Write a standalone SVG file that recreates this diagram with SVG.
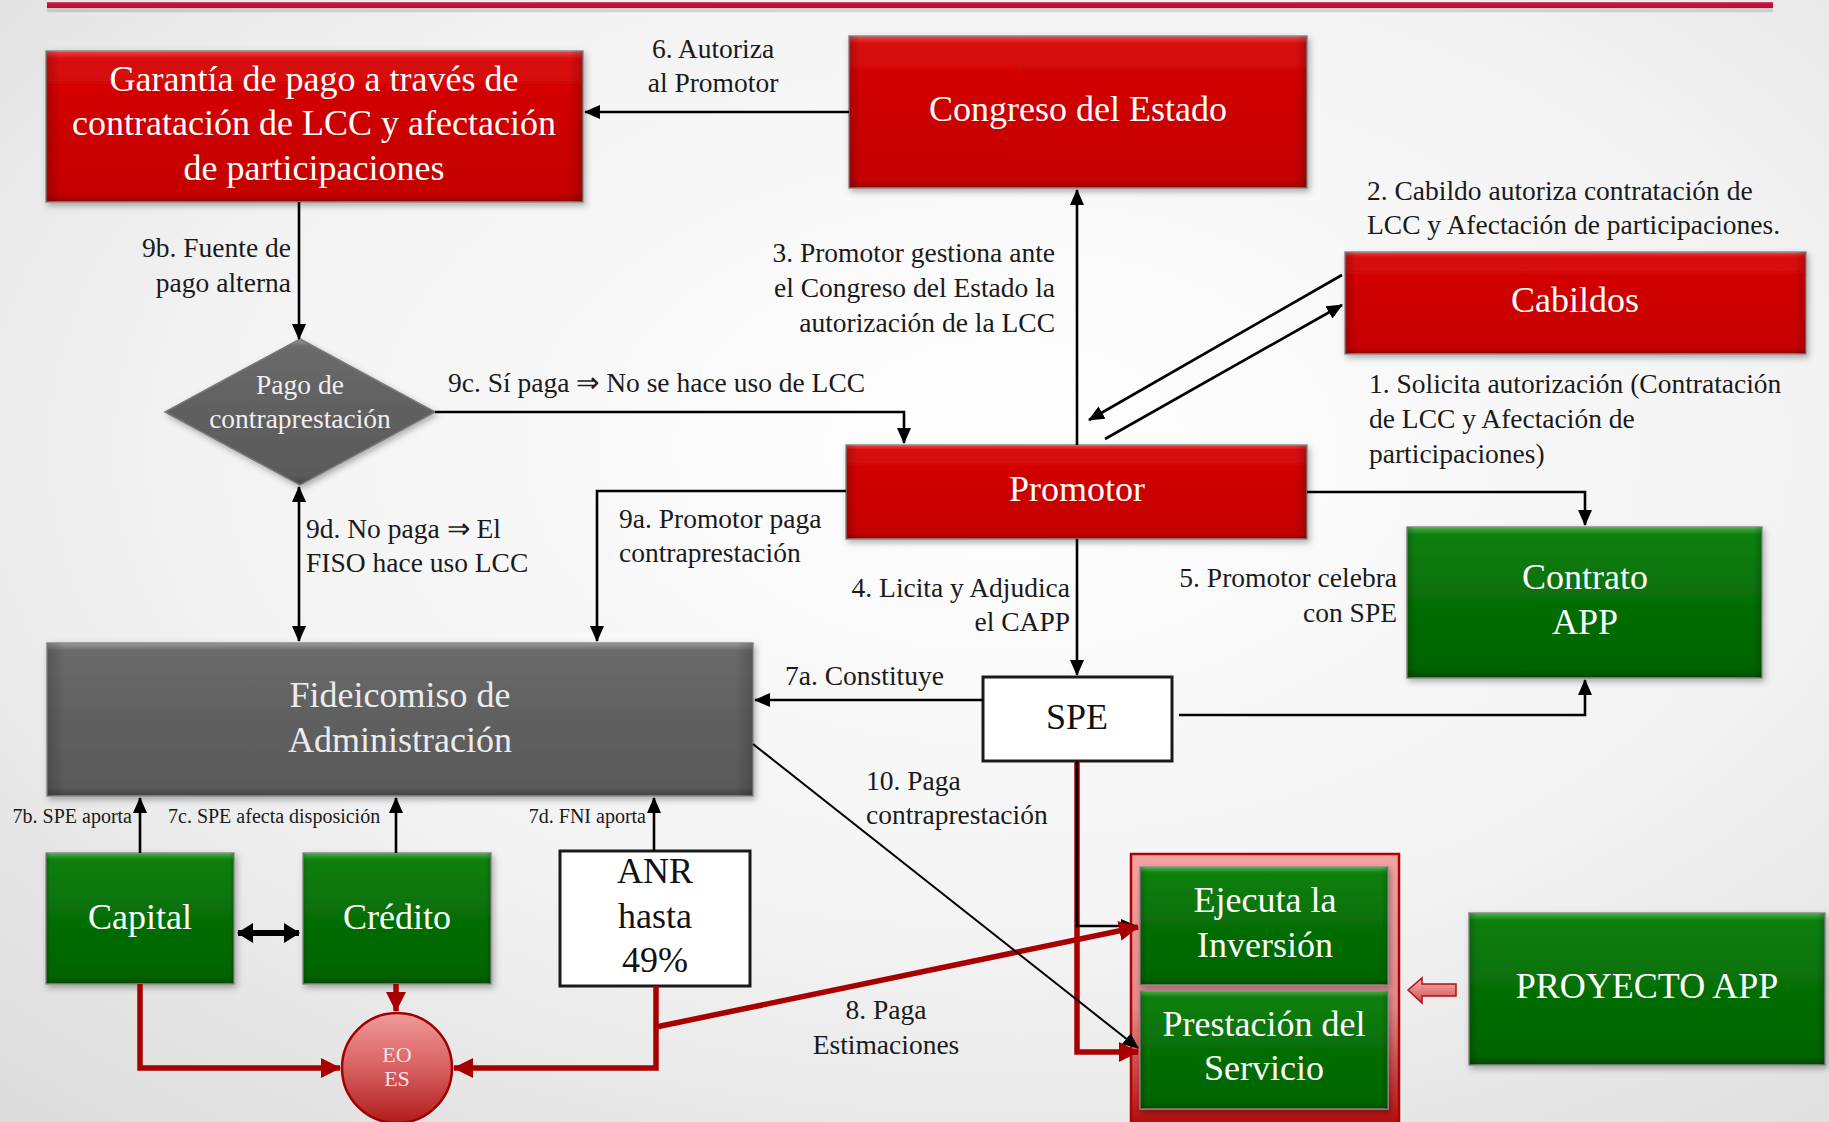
<svg xmlns="http://www.w3.org/2000/svg" width="1829" height="1122" viewBox="0 0 1829 1122">
  <defs>
    <radialGradient id="bg" cx="55%" cy="40%" r="80%">
      <stop offset="0" stop-color="#ffffff"/>
      <stop offset="0.55" stop-color="#f3f3f3"/>
      <stop offset="1" stop-color="#dcdcdc"/>
    </radialGradient>
    <linearGradient id="redFill" x1="0" y1="0" x2="0" y2="1">
      <stop offset="0" stop-color="#f04a4a"/>
      <stop offset="0.05" stop-color="#d80a0a"/>
      <stop offset="0.5" stop-color="#cc0000"/>
      <stop offset="0.94" stop-color="#c40000"/>
      <stop offset="1" stop-color="#9c0000"/>
    </linearGradient>
    <linearGradient id="greenFill" x1="0" y1="0" x2="0" y2="1">
      <stop offset="0" stop-color="#4cb04c"/>
      <stop offset="0.05" stop-color="#0d800d"/>
      <stop offset="0.5" stop-color="#066e06"/>
      <stop offset="0.94" stop-color="#056405"/>
      <stop offset="1" stop-color="#034a03"/>
    </linearGradient>
    <linearGradient id="grayFill" x1="0" y1="0" x2="0" y2="1">
      <stop offset="0" stop-color="#9a9a9a"/>
      <stop offset="0.05" stop-color="#6a6a6a"/>
      <stop offset="0.5" stop-color="#606060"/>
      <stop offset="0.94" stop-color="#5a5a5a"/>
      <stop offset="1" stop-color="#444444"/>
    </linearGradient>
    <linearGradient id="sideShade" x1="0" y1="0" x2="1" y2="0">
      <stop offset="0" stop-color="#000" stop-opacity="0.18"/>
      <stop offset="0.025" stop-color="#000" stop-opacity="0"/>
      <stop offset="0.975" stop-color="#000" stop-opacity="0"/>
      <stop offset="1" stop-color="#000" stop-opacity="0.18"/>
    </linearGradient>
    <linearGradient id="pinkFrame" x1="0" y1="0" x2="0" y2="1">
      <stop offset="0" stop-color="#f5a3a3"/>
      <stop offset="0.55" stop-color="#e58a8a"/>
      <stop offset="1" stop-color="#b00000"/>
    </linearGradient>
    <linearGradient id="ballFill" x1="0" y1="0" x2="0" y2="1">
      <stop offset="0" stop-color="#f29a9a"/>
      <stop offset="0.5" stop-color="#d86060"/>
      <stop offset="1" stop-color="#b01c1c"/>
    </linearGradient>
    <linearGradient id="blockArrow" x1="0" y1="0" x2="0" y2="1">
      <stop offset="0" stop-color="#f6b0b0"/>
      <stop offset="1" stop-color="#d05050"/>
    </linearGradient>
    <linearGradient id="topRule" x1="0" y1="0" x2="0" y2="1">
      <stop offset="0" stop-color="#d8506a"/>
      <stop offset="0.3" stop-color="#c4123c"/>
      <stop offset="1" stop-color="#b80f36"/>
    </linearGradient>
    <filter id="shadow" x="-5%" y="-5%" width="112%" height="120%">
      <feDropShadow dx="2" dy="3" stdDeviation="3" flood-color="#000" flood-opacity="0.3"/>
    </filter>
    <marker id="ah" markerUnits="userSpaceOnUse" markerWidth="16" markerHeight="14" refX="15" refY="7" orient="auto-start-reverse">
      <path d="M0,0 L16,7 L0,14 z" fill="#000"/>
    </marker>
    <marker id="ahBig" markerUnits="userSpaceOnUse" markerWidth="16" markerHeight="20" refX="15" refY="10" orient="auto-start-reverse">
      <path d="M0,0 L16,10 L0,20 z" fill="#000"/>
    </marker>
    <marker id="ahRed" markerUnits="userSpaceOnUse" markerWidth="20" markerHeight="20" refX="19" refY="10" orient="auto">
      <path d="M0,0 L20,10 L0,20 z" fill="#a80000"/>
    </marker>
    <style>
      .bg { fill: url(#bg); }
      .box { stroke: #8c8c8c; stroke-width: 1.5; filter: url(#shadow); }
      .red { fill: url(#redFill); }
      .green { fill: url(#greenFill); }
      .gray { fill: url(#grayFill); }
      .shade { fill: url(#sideShade); }
      .plain { fill: #ffffff; stroke: #1a1a1a; stroke-width: 3; }
      text { font-family: "Liberation Serif", "Times New Roman", serif; }
      .big { font-size: 36px; fill: #ffffff; text-anchor: middle; }
      .bigDark { font-size: 36px; fill: #111111; text-anchor: middle; }
      .lbl { font-size: 27.5px; fill: #1a1a1a; }
      .small { font-size: 20px; fill: #1a1a1a; }
      .mid { text-anchor: middle; }
      .end { text-anchor: end; }
      .ln { fill: none; stroke: #000; stroke-width: 2.6; }
      .lnThin { fill: none; stroke: #000; stroke-width: 2; }
      .lnRed { fill: none; stroke: #a80000; stroke-width: 5.5; }
      .lnThick { fill: none; stroke: #000; stroke-width: 6; }
    </style>
  </defs>

  <!-- backdrop and header rule -->
  <rect class="bg" x="0" y="0" width="1829" height="1122"/>
  <rect x="47" y="6" width="1726" height="6" fill="#000" opacity="0.12" filter="url(#shadow)"/>
  <rect x="47" y="2" width="1726" height="6" fill="url(#topRule)"/>

  <!-- nodes -->
  <g id="node-garantia">
    <rect class="box red" x="46" y="51" width="537" height="151"/>
    <rect class="shade" x="46" y="51" width="537" height="151"/>
    <text class="big" x="314" y="91">Garantía de pago a través de</text>
    <text class="big" x="314" y="135">contratación de LCC y afectación</text>
    <text class="big" x="314" y="180">de participaciones</text>
  </g>

  <g id="node-congreso">
    <rect class="box red" x="849" y="36" width="458" height="152"/>
    <rect class="shade" x="849" y="36" width="458" height="152"/>
    <text class="big" x="1078" y="121">Congreso del Estado</text>
  </g>

  <g id="node-cabildos">
    <rect class="box red" x="1345" y="252" width="461" height="102"/>
    <rect class="shade" x="1345" y="252" width="461" height="102"/>
    <text class="big" x="1575" y="312">Cabildos</text>
  </g>

  <g id="node-promotor">
    <rect class="box red" x="846" y="445" width="461" height="94"/>
    <rect class="shade" x="846" y="445" width="461" height="94"/>
    <text class="big" x="1077" y="501">Promotor</text>
  </g>

  <g id="node-contrato">
    <rect class="box green" x="1407" y="527" width="355" height="151"/>
    <rect class="shade" x="1407" y="527" width="355" height="151"/>
    <text class="big" x="1585" y="589">Contrato</text>
    <text class="big" x="1585" y="634">APP</text>
  </g>

  <g id="node-spe">
    <rect class="plain" x="983" y="677" width="189" height="84"/>
    <text class="bigDark" x="1077" y="729">SPE</text>
  </g>

  <g id="node-pago">
    <polygon points="300,339 435,412 300,485 165,412" fill="url(#grayFill)" stroke="#777" stroke-width="1.5" filter="url(#shadow)"/>
    <text class="lbl mid" x="300" y="394" fill="#f0f0f0" style="fill:#f0f0f0">Pago de</text>
    <text class="lbl mid" x="300" y="428" style="fill:#f0f0f0">contraprestación</text>
  </g>

  <g id="node-fideicomiso">
    <rect class="box gray" x="47" y="643" width="706" height="153"/>
    <rect class="shade" x="47" y="643" width="706" height="153"/>
    <text class="big" x="400" y="707" style="fill:#ececec">Fideicomiso de</text>
    <text class="big" x="400" y="752" style="fill:#ececec">Administración</text>
  </g>

  <g id="node-capital">
    <rect class="box green" x="46" y="853" width="188" height="131"/>
    <rect class="shade" x="46" y="853" width="188" height="131"/>
    <text class="big" x="140" y="929">Capital</text>
  </g>

  <g id="node-credito">
    <rect class="box green" x="303" y="853" width="188" height="131"/>
    <rect class="shade" x="303" y="853" width="188" height="131"/>
    <text class="big" x="397" y="929">Crédito</text>
  </g>

  <g id="node-anr">
    <rect class="plain" x="560" y="851" width="190" height="135"/>
    <text class="bigDark" x="655" y="883">ANR</text>
    <text class="bigDark" x="655" y="928">hasta</text>
    <text class="bigDark" x="655" y="972">49%</text>
  </g>

  <g id="node-eoes">
    <circle cx="397" cy="1068" r="55" fill="url(#ballFill)" stroke="#a00000" stroke-width="2.5"/>
    <text x="397" y="1062" font-size="22" fill="#fbe3e3" text-anchor="middle">EO</text>
    <text x="397" y="1086" font-size="22" fill="#fbe3e3" text-anchor="middle">ES</text>
  </g>

  <g id="node-proyecto">
    <rect x="1131" y="854" width="268" height="280" fill="url(#pinkFrame)" stroke="#b00000" stroke-width="2.5"/>
  </g>

  <g id="node-ejecuta">
    <rect class="box green" x="1140" y="867" width="248" height="118"/>
    <rect class="shade" x="1140" y="867" width="248" height="118"/>
    <text class="big" x="1265" y="912">Ejecuta la</text>
    <text class="big" x="1265" y="957">Inversión</text>
  </g>

  <g id="node-prestacion">
    <rect class="box green" x="1140" y="991" width="248" height="118"/>
    <rect class="shade" x="1140" y="991" width="248" height="118"/>
    <text class="big" x="1264" y="1036">Prestación del</text>
    <text class="big" x="1264" y="1080">Servicio</text>
  </g>

  <g id="node-proyecto-app">
    <rect class="box green" x="1469" y="913" width="356" height="152"/>
    <rect class="shade" x="1469" y="913" width="356" height="152"/>
    <text class="big" x="1647" y="998">PROYECTO APP</text>
  </g>

  <g id="node-block-arrow">
    <polygon points="1408,990 1422,978 1422,984 1456,984 1456,996 1422,996 1422,1003" fill="url(#blockArrow)" stroke="#b01010" stroke-width="1.5"/>
  </g>

  <!-- connectors -->
  <g id="connectors">
    <path class="ln" d="M849,112 H585" marker-end="url(#ah)"/>
    <path class="ln" d="M299,202 V339" marker-end="url(#ah)"/>
    <path class="ln" d="M435,412 H904 V443" marker-end="url(#ah)"/>
    <path class="ln" d="M299,487 V641" marker-start="url(#ah)" marker-end="url(#ah)"/>
    <path class="ln" d="M846,491 H597 V641" marker-end="url(#ah)"/>
    <path class="ln" d="M1077,445 V190" marker-end="url(#ah)"/>
    <path class="ln" d="M1342,275 L1089,420" marker-end="url(#ah)"/>
    <path class="ln" d="M1105,439 L1342,305" marker-end="url(#ah)"/>
    <path class="ln" d="M1307,492 H1585 V525" marker-end="url(#ah)"/>
    <path class="ln" d="M1077,539 V675" marker-end="url(#ah)"/>
    <path class="ln" d="M1179,715 H1585 V680" marker-end="url(#ah)"/>
    <path class="ln" d="M983,700 H755" marker-end="url(#ah)"/>
    <path class="lnRed" d="M1077,761 V1052 H1138" marker-end="url(#ahRed)"/>
    <path class="ln" d="M1077,761 V926 H1136" marker-end="url(#ah)"/>
    <path class="lnRed" d="M656,1027 L1138,927" marker-end="url(#ahRed)"/>
    <path class="lnThin" d="M753,744 L1138,1048" marker-end="url(#ah)"/>
    <path class="lnRed" d="M656,986 V1068 H454" marker-end="url(#ahRed)"/>
    <path class="lnRed" d="M140,984 V1068 H340" marker-end="url(#ahRed)"/>
    <path class="lnRed" d="M396,984 V1011" marker-end="url(#ahRed)"/>
    <path class="lnThick" d="M238,933 H299" marker-start="url(#ahBig)" marker-end="url(#ahBig)"/>
    <path class="ln" d="M140,853 V798" marker-end="url(#ah)"/>
    <path class="ln" d="M396,853 V798" marker-end="url(#ah)"/>
    <path class="ln" d="M654,851 V798" marker-end="url(#ah)"/>
  </g>

  <!-- connector labels -->
  <g id="labels">
    <text class="lbl mid" x="713" y="58">6. Autoriza</text>
    <text class="lbl mid" x="713" y="92">al Promotor</text>

    <text class="lbl" x="1367" y="200">2. Cabildo autoriza contratación de</text>
    <text class="lbl" x="1367" y="234">LCC y Afectación de participaciones.</text>

    <text class="lbl end" x="1055" y="262">3. Promotor gestiona ante</text>
    <text class="lbl end" x="1055" y="297">el Congreso del Estado la</text>
    <text class="lbl end" x="1055" y="332">autorización de la LCC</text>

    <text class="lbl end" x="291" y="257">9b. Fuente de</text>
    <text class="lbl end" x="291" y="292">pago alterna</text>

    <text class="lbl" x="448" y="392">9c. Sí paga ⇒ No se hace uso de LCC</text>

    <text class="lbl" x="1369" y="393">1. Solicita autorización (Contratación</text>
    <text class="lbl" x="1369" y="428">de LCC y Afectación de</text>
    <text class="lbl" x="1369" y="463">participaciones)</text>

    <text class="lbl" x="306" y="538">9d. No paga ⇒ El</text>
    <text class="lbl" x="306" y="572">FISO hace uso LCC</text>

    <text class="lbl" x="619" y="528">9a. Promotor paga</text>
    <text class="lbl" x="619" y="562">contraprestación</text>

    <text class="lbl end" x="1070" y="597">4. Licita y Adjudica</text>
    <text class="lbl end" x="1070" y="631">el CAPP</text>

    <text class="lbl end" x="1397" y="587">5. Promotor celebra</text>
    <text class="lbl end" x="1397" y="622">con SPE</text>

    <text class="lbl" x="785" y="685">7a. Constituye</text>

    <text class="lbl" x="866" y="790">10. Paga</text>
    <text class="lbl" x="866" y="824">contraprestación</text>

    <text class="lbl mid" x="886" y="1019">8. Paga</text>
    <text class="lbl mid" x="886" y="1054">Estimaciones</text>

    <text class="small end" x="132" y="823">7b. SPE aporta</text>
    <text class="small" x="168" y="823">7c. SPE afecta disposición</text>
    <text class="small end" x="646" y="823">7d. FNI aporta</text>
  </g>
</svg>
